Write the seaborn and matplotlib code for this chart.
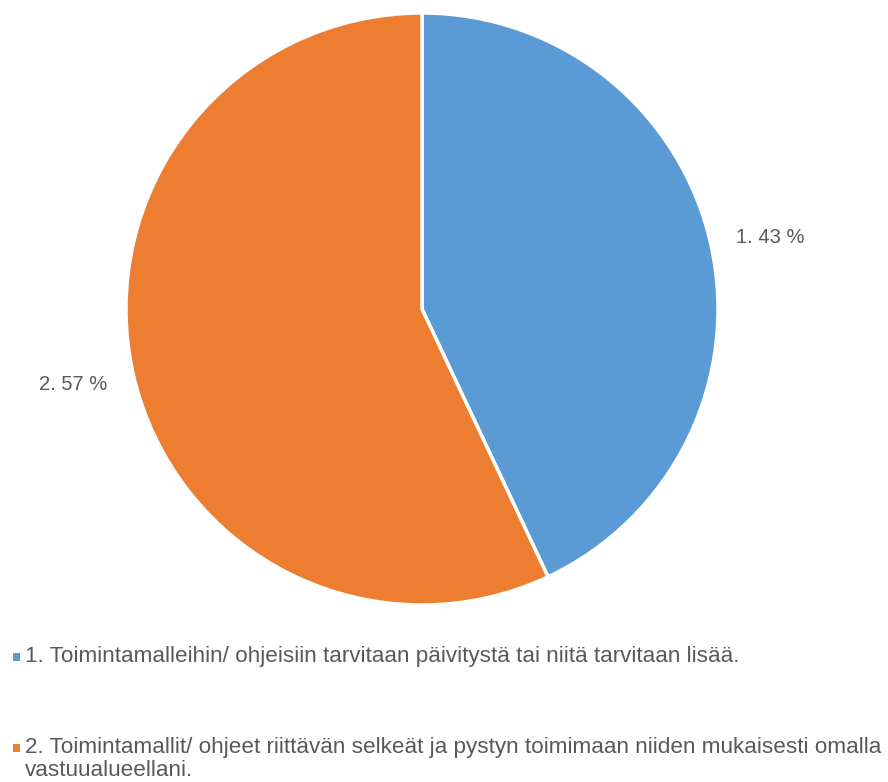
import matplotlib
matplotlib.use("Agg")
import matplotlib.pyplot as plt
from matplotlib.patches import Rectangle
import matplotlib.transforms as mtransforms
import seaborn as sns

categories = ["1. Toimintamalleihin/ ohjeisiin tarvitaan päivitystä tai niitä tarvitaan lisää.",
              "2. Toimintamallit/ ohjeet riittävän selkeät ja pystyn toimimaan niiden mukaisesti omalla\nvastuualueellani."]
short_labels = ["1", "2"]
values = [43, 57]
colors = ["#5B9BD5", "#ED7D31"]

sns.set_theme(style="white")
plt.rcParams['font.family'] = ['Liberation Sans', 'DejaVu Sans']
text_color = "#595959"

fig = plt.figure(figsize=(8.88, 7.82), dpi=100)
ax = fig.add_axes([126/888, (782-605)/782, 592/888, 592/782])
labels = [f"{s}. {v} %" for s, v in zip(short_labels, values)]
wedges, texts = ax.pie(values, colors=colors, startangle=90, counterclock=False,
                       labels=labels, labeldistance=1.2,
                       wedgeprops=dict(edgecolor="white", linewidth=2.5),
                       textprops=dict(color=text_color, fontsize=14.5))
shifts = [(2, -6), (-2, 2)]
for t, (dx, dy) in zip(texts, shifts):
    t.set_ha("center")
    t.set_va("center")
    t.set_transform(t.get_transform() +
                    mtransforms.ScaledTranslation(dx/100, dy/100, fig.dpi_scale_trans))
ax.set_xlim(-1, 1)
ax.set_ylim(-1, 1)
ax.set_aspect("equal")
ax.axis("off")

# legend drawn manually
ys = [657, 748]
for c, lab, y in zip(colors, categories, ys):
    fig.patches.append(Rectangle((13/888, 1 - (y+4)/782), 7/888, 8/782,
                                 transform=fig.transFigure, facecolor=c, edgecolor="none"))
    fig.text(25/888, 1 - (y-11)/782, lab, color=text_color, fontsize=16.2,
             ha="left", va="top", linespacing=1.15)

fig.savefig("out.png", dpi=100)
